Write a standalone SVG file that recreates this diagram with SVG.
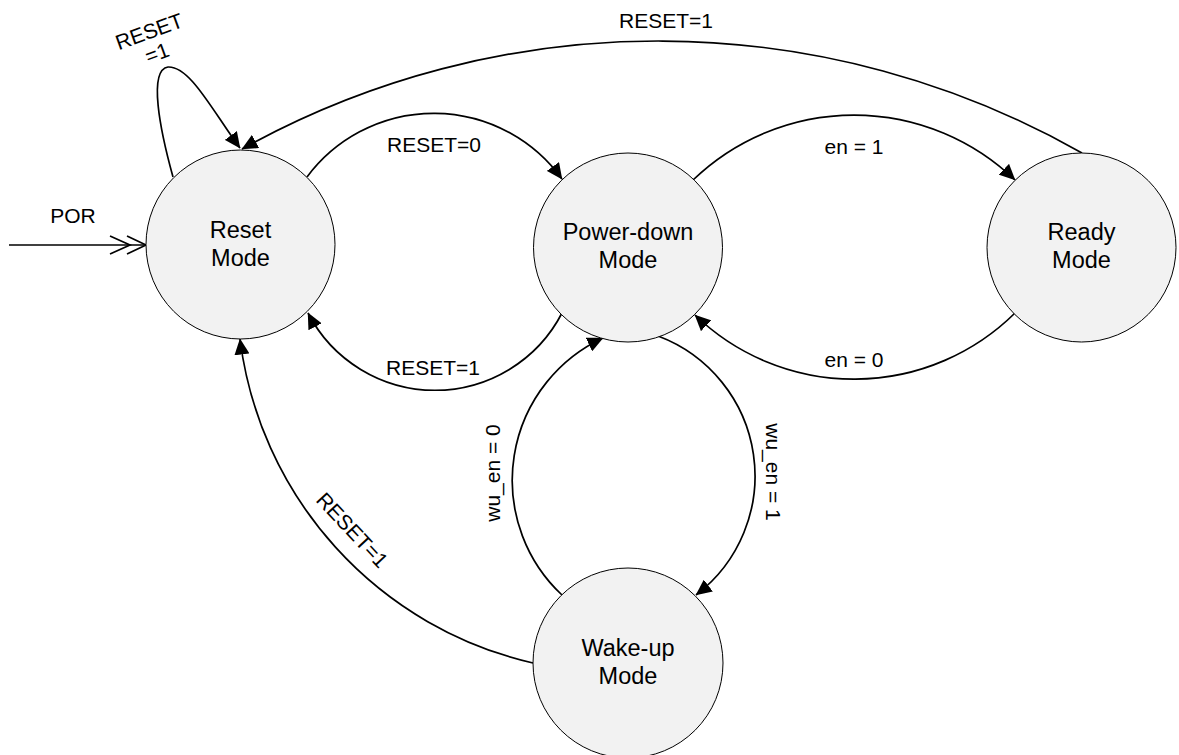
<svg xmlns="http://www.w3.org/2000/svg" width="1179" height="755" viewBox="0 0 1179 755">
<style>
.node circle{fill:#f2f2f2;stroke:#000;stroke-width:1}
.node text{font-family:"Liberation Sans",Arial,sans-serif;font-size:23.5px;fill:#000;text-anchor:middle}
.edge{fill:none;stroke:#000;stroke-width:1.7}
.arr{marker-end:url(#arr)}
.lbl{font-family:"Liberation Sans",Arial,sans-serif;font-size:21px;fill:#000;text-anchor:middle}
</style>
<defs>
<marker id="arr" markerWidth="16" markerHeight="15" refX="15.5" refY="7.5" orient="auto" markerUnits="userSpaceOnUse">
<path d="M0,0 L16,7.5 L0,15 z" fill="#000"/>
</marker>
</defs>
<rect width="1179" height="755" fill="#fff"/>
<g id="connectors">
<path class="edge" d="M9,245 L146,245"/>
<path class="edge" d="M110,236 L130,245 L110,254 M127,236 L146,245 L127,254"/>
<path class="edge arr" d="M173,177 C160,130 148,70 168,67 C190,66 212,110 240,148"/>
<path class="edge arr" d="M1082,153 A857,857 0 0 0 242,149"/>
<path class="edge arr" d="M307,177 A158,158 0 0 1 562,179"/>
<path class="edge arr" d="M693,180 A232,232 0 0 1 1015,180"/>
<path class="edge arr" d="M1015,313 A229,229 0 0 1 695,315"/>
<path class="edge arr" d="M562,313 A143,143 0 0 1 308,313"/>
<path class="edge arr" d="M562,595 A157,157 0 0 1 603,338"/>
<path class="edge arr" d="M658,336 A149.5,149.5 0 0 1 696,595"/>
<path class="edge arr" d="M533,663 A381,381 0 0 1 240,339"/>
<text class="lbl" x="73" y="223">POR</text>
<text class="lbl" transform="translate(153,42) rotate(-20)"><tspan x="0" y="-4">RESET</tspan><tspan x="0" y="19">=1</tspan></text>
<text class="lbl" x="666" y="28">RESET=1</text>
<text class="lbl" x="434" y="152">RESET=0</text>
<text class="lbl" x="854" y="154">en = 1</text>
<text class="lbl" x="854" y="367">en = 0</text>
<text class="lbl" x="433" y="375">RESET=1</text>
<text class="lbl" transform="translate(500,473) rotate(-90)">wu_en = 0</text>
<text class="lbl" transform="translate(766,472) rotate(90)">wu_en = 1</text>
<text class="lbl" transform="translate(347,535) rotate(47)">RESET=1</text>
</g>
<g id="node-reset" class="node">
<circle cx="240.5" cy="244.5" r="94.5"/>
<text x="240.5" y="237.5">Reset</text>
<text x="240.5" y="265.5">Mode</text>
</g>
<g id="node-powerdown" class="node">
<circle cx="628" cy="247.5" r="94.5"/>
<text x="628" y="240">Power-down</text>
<text x="628" y="268">Mode</text>
</g>
<g id="node-ready" class="node">
<circle cx="1081.5" cy="247.5" r="94.5"/>
<text x="1081.5" y="240">Ready</text>
<text x="1081.5" y="268">Mode</text>
</g>
<g id="node-wakeup" class="node">
<circle cx="628" cy="663" r="95"/>
<text x="628" y="656">Wake-up</text>
<text x="628" y="684">Mode</text>
</g>
</svg>
